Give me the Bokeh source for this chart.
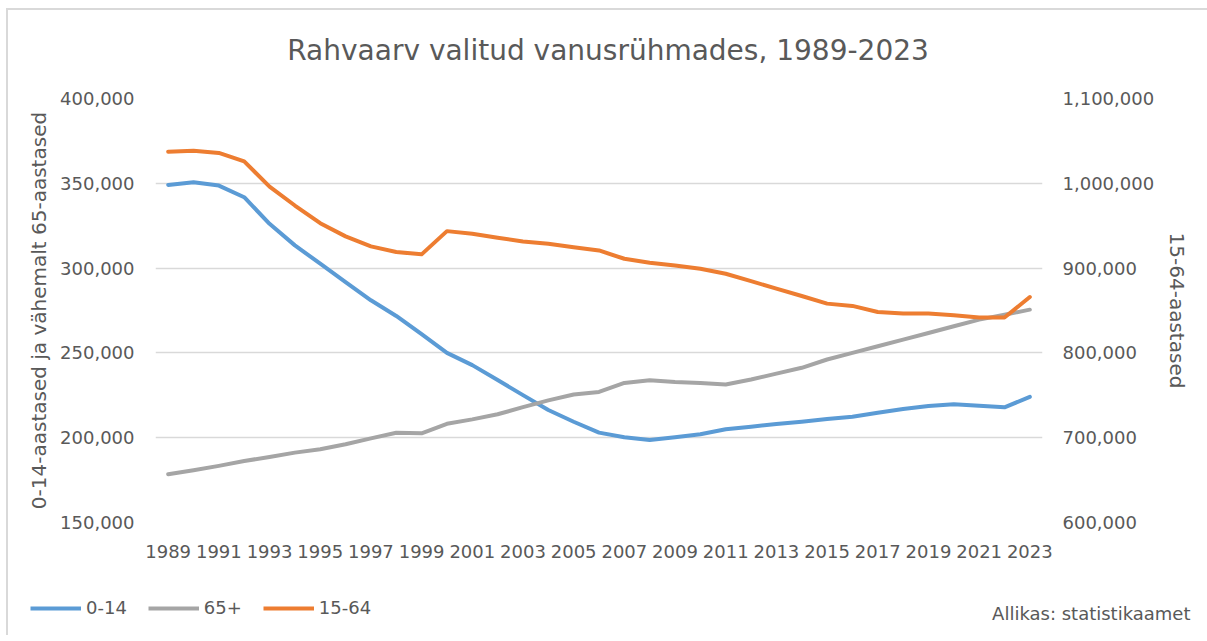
from bokeh.plotting import figure
from bokeh.layouts import column
from bokeh.models import (Range1d, LinearAxis, FixedTicker, NumeralTickFormatter,
                          Legend, LegendItem, Label, ColumnDataSource)
from bokeh.embed import file_html
from bokeh.resources import INLINE

years = list(range(1989, 2024))
age_0_14 = [349060, 350600, 348650, 341800, 326100, 313400, 302600, 291800, 281000,
            271800, 261000, 250000, 242800, 234000, 225100, 216300, 209400, 203000,
            200300, 198700, 200300, 202000, 205000, 206500, 208100, 209400, 211000,
            212400, 214700, 216900, 218700, 219700, 218800, 217900, 224100]
age_65_plus = [178500, 180800, 183400, 186300, 188600, 191200, 193200, 196100, 199600,
               202900, 202600, 208200, 210800, 213800, 218000, 222000, 225500, 227000,
               232300, 233900, 232900, 232300, 231400, 234300, 237800, 241200, 246100,
               250000, 253900, 257800, 261700, 265700, 269600, 272500, 275500]
age_15_64 = [1037300, 1038500, 1035800, 1025900, 996100, 973800, 953000, 937400, 925600,
             918900, 916200, 943600, 940500, 935800, 931400, 928700, 924700, 920800,
             911000, 906300, 903100, 899200, 893300, 884700, 875700, 867100, 858100,
             855400, 848300, 846400, 846400, 844400, 841700, 841700, 865900]
series_names = ["0-14", "65+", "15-64"]
series_colors = ["#5B9BD5", "#A5A5A5", "#ED7D31"]
title_text = "Rahvaarv valitud vanusrühmades,  1989-2023"
left_label = "0-14-aastased ja vähemalt 65-aastased"
right_label = "15-64-aastased"
source_text = "Allikas: statistikaamet"

FONT = "DejaVu Sans"
GREY_TXT = "#595959"
W = 1199

src = ColumnDataSource(dict(year=years, a=age_0_14, b=age_65_plus, c=age_15_64))

# title strip
tf = figure(width=W, height=60, output_backend="svg", toolbar_location=None,
            x_range=Range1d(0, 1), y_range=Range1d(0, 1), x_axis_type=None, y_axis_type=None,
            min_border=0, outline_line_color=None)
tf.frame_align = False
tf.add_layout(Label(x=604, y=20, x_units="screen", y_units="screen", text=title_text,
                    text_align="center", text_baseline="middle", text_font=FONT,
                    text_font_size="28px", text_color=GREY_TXT))

p = figure(width=W, height=515, output_backend="svg", toolbar_location=None,
           x_range=Range1d(1988.5, 2023.5), y_range=Range1d(150000, 400000),
           min_border_left=147, min_border_right=165, min_border_top=28,
           min_border_bottom=63, outline_line_color=None)
p.frame_align = False
p.extra_y_ranges = {"right": Range1d(600000, 1100000)}

p.xaxis.ticker = FixedTicker(ticks=years[::2])
p.xgrid.visible = False
p.ygrid.ticker = FixedTicker(ticks=list(range(150000, 400001, 50000)))
p.ygrid.grid_line_color = "#D9D9D9"
p.ygrid.grid_line_width = 1.3

for ax in [p.xaxis[0], p.yaxis[0]]:
    ax.axis_line_color = None
    ax.major_tick_line_color = None
    ax.minor_tick_line_color = None
    ax.major_label_text_font = FONT
    ax.major_label_text_font_size = "18px"
    ax.major_label_text_color = GREY_TXT

p.xaxis.major_label_standoff = 16
p.yaxis.ticker = FixedTicker(ticks=list(range(150000, 400001, 50000)))
p.yaxis.formatter = NumeralTickFormatter(format="0,0")
p.yaxis.major_label_standoff = 15
p.yaxis.axis_label = left_label
p.yaxis.axis_label_text_font = FONT
p.yaxis.axis_label_text_font_style = "normal"
p.yaxis.axis_label_text_font_size = "20px"
p.yaxis.axis_label_text_color = GREY_TXT
p.yaxis.axis_label_standoff = 6

rax = LinearAxis(y_range_name="right", ticker=FixedTicker(ticks=list(range(600000, 1100001, 100000))),
                 formatter=NumeralTickFormatter(format="0,0"),
                 axis_line_color=None, major_tick_line_color=None, minor_tick_line_color=None,
                 major_label_text_font=FONT, major_label_text_font_size="18px",
                 major_label_text_color=GREY_TXT, major_label_standoff=14,
                 axis_label=right_label, axis_label_text_font=FONT,
                 axis_label_text_font_style="normal", axis_label_text_font_size="20px",
                 axis_label_text_color=GREY_TXT, axis_label_standoff=8)
p.add_layout(rax, "right")

p.line("year", "a", source=src, line_color=series_colors[0], line_width=4, line_cap="round", line_join="round")
p.line("year", "b", source=src, line_color=series_colors[1], line_width=4, line_cap="round", line_join="round")
p.line("year", "c", source=src, y_range_name="right", line_color=series_colors[2], line_width=4,
       line_cap="round", line_join="round")

# legend / source strip (its ranges keep the proxy lines out of view; only the legend shows)
lf = figure(width=W, height=50, output_backend="svg", toolbar_location=None,
            x_range=Range1d(0, 1), y_range=Range1d(0, 1), x_axis_type=None, y_axis_type=None,
            min_border=0, outline_line_color=None)
lf.frame_align = False
proxies = [lf.line("year", col, source=src, line_color=c, line_width=4, line_cap="butt")
           for col, c in zip(["a", "b", "c"], series_colors)]
legend = Legend(items=[LegendItem(label=n, renderers=[r]) for n, r in zip(series_names, proxies)],
                orientation="horizontal", location=(22, 17), padding=0, margin=0,
                spacing=21, glyph_width=51, glyph_height=20, label_height=20,
                label_standoff=5, border_line_color=None, background_fill_alpha=0,
                label_text_font=FONT, label_text_font_size="18px", label_text_color=GREY_TXT)
lf.add_layout(legend, "center")
lf.add_layout(Label(x=1182, y=22, x_units="screen", y_units="screen", text=source_text,
                    text_align="right", text_baseline="middle", text_font=FONT,
                    text_font_size="18px", text_color=GREY_TXT))

layout = column(tf, p, lf, spacing=0,
                styles={"margin-top": "8px", "margin-left": "6px",
                        "border-top": "2px solid #D9D9D9", "border-left": "2px solid #D9D9D9"})

open("out.html", "w").write(file_html(layout, INLINE))
